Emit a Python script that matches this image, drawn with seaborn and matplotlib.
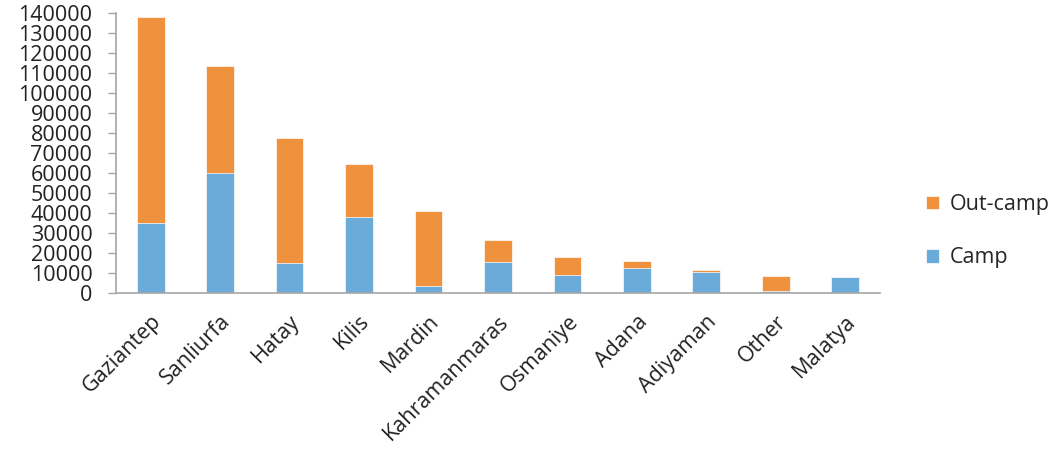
import matplotlib
matplotlib.use("Agg")
import matplotlib.pyplot as plt
import seaborn as sns
import numpy as np
import pandas as pd

provinces = ["Gaziantep", "Sanliurfa", "Hatay", "Kilis", "Mardin", "Kahramanmaras",
             "Osmaniye", "Adana", "Adiyaman", "Other", "Malatya"]
camp = [35000, 60000, 15000, 38000, 3200, 15300, 9000, 12200, 10200, 700, 7800]
out_camp = [103000, 53300, 62500, 26200, 37800, 11000, 9000, 3800, 1000, 7600, 0]
yticks = list(range(0, 140001, 10000))

sns.set_theme(style="white")
plt.rcParams['font.family'] = ['Open Sans', 'DejaVu Sans']

df = pd.DataFrame({"province": provinces, "camp": camp, "out": out_camp})
df["total"] = df["camp"] + df["out"]

fig = plt.figure(figsize=(10.64, 4.54), dpi=100)
ax = fig.add_axes([0.109, 0.355, 0.718, 0.617])

orange = "#F0913E"
blue = "#6BABDA"
sns.barplot(data=df, x="province", y="total", color=orange, width=0.4,
            edgecolor="white", linewidth=0.5, ax=ax, label="Out-camp", saturation=1)
sns.barplot(data=df, x="province", y="camp", color=blue, width=0.4,
            edgecolor="white", linewidth=0.5, ax=ax, label="Camp", saturation=1)

ax.set_xlim(-0.5, len(provinces) - 0.5)
ax.set_ylim(0, 140000)
ax.set_yticks(yticks)
ax.set_yticklabels([str(v) for v in yticks], fontsize=15.5, color="#222222")
ax.set_xlabel("")
ax.set_ylabel("")
ax.set_xticks(range(len(provinces)))
ax.set_xticklabels(provinces, rotation=45, ha="right", rotation_mode="anchor",
                   fontsize=15.5, color="#222222")
ax.tick_params(axis="x", which="major", length=0, pad=13)
ax.set_xticks(np.arange(-0.5, len(provinces)), minor=True)
ax.tick_params(axis="x", which="minor", length=6, width=1, color="#A6A6A6", direction="out")
ax.tick_params(axis="y", which="major", length=6, width=1, color="#A6A6A6",
               direction="out", left=True, pad=11)
for s in ["top", "right"]:
    ax.spines[s].set_visible(False)
for s in ["left", "bottom"]:
    ax.spines[s].set_color("#A6A6A6")
    ax.spines[s].set_linewidth(1.2)

handles, labels = ax.get_legend_handles_labels()
ax.legend(handles, labels, loc="center left", bbox_to_anchor=(1.035, 0.22),
          frameon=False, fontsize=15.5, labelspacing=1.5, handlelength=0.6,
          handleheight=0.6, handletextpad=0.5)

fig.savefig("out.png", dpi=100)
